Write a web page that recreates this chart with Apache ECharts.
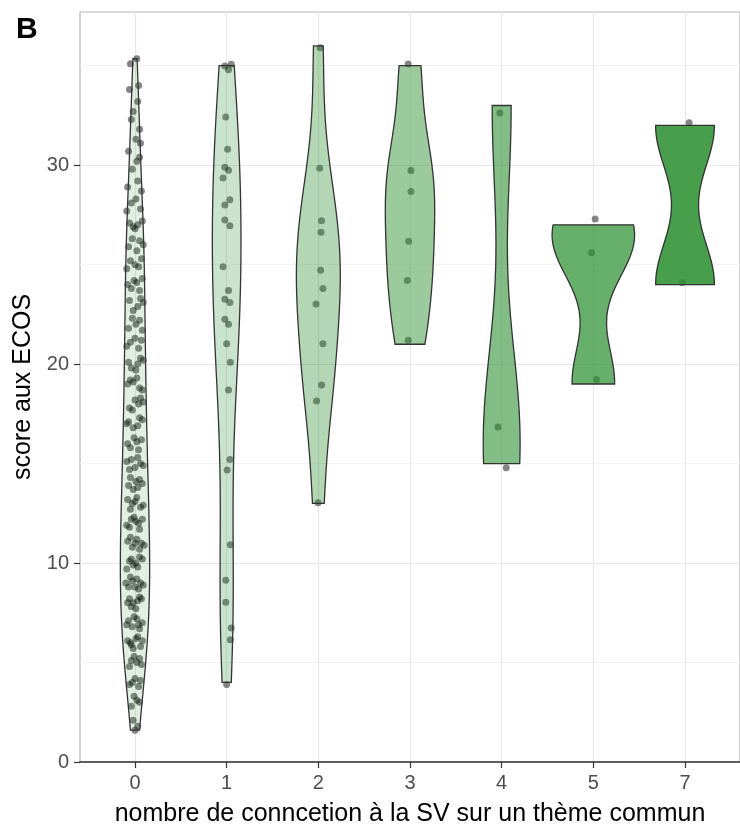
<!DOCTYPE html>
<html>
<head>
<meta charset="utf-8">
<script src="https://cdn.jsdelivr.net/npm/echarts@6/dist/echarts.min.js"></script>
<style>html,body{margin:0;padding:0;background:#fff}#c{width:740px;height:832px}</style>
</head>
<body>
<div id="c"></div>
<script>
// ---- data ----
const categories = ['0', '1', '2', '3', '4', '5', '7'];
const yLabelTicks = [0, 10, 20, 30];
const yGridTicks = [0, 5, 10, 15, 20, 25, 30, 35];
const xTicks = [0, 1, 2, 3, 4, 5, 6];
const fillAlpha = [0.14, 0.25, 0.36, 0.48, 0.6, 0.72, 0.88];

// jittered points as read: [x offset from category, score]
const pts0 = [
 [0.02,35.35],[-0.05,35.1],[-0.06,33.8],[0.04,34.0],[0.03,33.2],[-0.02,32.7],[0.05,31.8],[-0.04,32.3],
 [0.06,31.1],[-0.07,30.7],[0.01,31.3],[0.02,30.2],[-0.03,29.8],[0.05,30.4],[-0.08,28.9],[0.03,29.2],[0.07,28.7],
 [-0.04,28.1],[0.06,27.8],[0.01,28.3],[-0.09,27.7],[0.03,27.0],[-0.02,26.9],[0.08,27.2],[-0.06,27.1],[0.0,26.8],
 [0.05,26.2],[-0.07,25.9],[0.02,25.7],[-0.03,26.3],[0.09,26.0],[-0.05,25.2],[0.04,24.9],[0.0,25.0],[-0.09,24.8],[0.07,25.3],
 [0.02,24.1],[-0.04,23.8],[0.08,24.3],[-0.08,24.0],[0.05,23.7],[-0.01,24.2],
 [-0.06,23.2],[0.03,22.9],[0.09,23.1],[-0.02,22.7],[0.06,23.3],
 [0.01,22.0],[-0.07,21.8],[0.05,22.2],[-0.03,22.3],[0.08,21.7],
 [-0.05,21.1],[0.04,20.8],[0.0,21.3],[-0.09,20.9],[0.07,21.2],
 [0.03,20.0],[-0.04,19.8],[0.09,20.2],[-0.07,20.1],[0.01,19.7],[0.06,20.3],
 [-0.02,19.1],[0.05,18.8],[-0.08,19.0],[0.02,19.3],[0.08,18.7],[-0.05,19.2],
 [0.04,18.0],[-0.06,17.8],[0.0,18.2],[0.09,18.1],[-0.03,17.7],[0.06,18.3],
 [-0.07,17.1],[0.03,16.9],[0.08,17.2],[-0.02,16.8],[0.05,17.3],[-0.09,17.0],
 [0.02,16.1],[-0.05,15.8],[0.07,16.2],[-0.08,16.0],[0.04,15.7],[-0.01,16.3],
 [0.06,15.0],[-0.04,15.2],[0.0,14.8],[-0.09,15.1],[0.09,14.9],[0.03,15.3],[-0.06,14.7],
 [0.01,14.1],[-0.07,13.9],[0.05,14.2],[-0.02,13.7],[0.08,14.0],[-0.05,14.3],[0.03,13.8],
 [-0.03,13.0],[0.06,12.8],[-0.08,13.2],[0.02,13.3],[0.09,12.9],[-0.05,12.7],[0.0,13.1],
 [0.04,12.0],[-0.06,11.8],[0.08,12.2],[-0.01,12.3],[-0.09,11.9],[0.05,11.7],[0.01,12.1],[-0.04,12.2],
 [0.07,11.0],[-0.03,10.8],[0.02,11.2],[-0.08,11.1],[0.05,10.7],[-0.05,11.3],[0.1,10.9],[0.0,11.0],
 [-0.06,10.1],[0.03,9.8],[0.08,10.2],[-0.02,9.9],[0.05,10.3],[-0.09,9.7],[0.01,10.0],[-0.04,10.2],
 [0.06,9.0],[-0.07,8.8],[0.02,9.2],[-0.03,9.1],[0.09,8.9],[-0.05,9.3],[0.04,8.7],[-0.1,9.0],[0.0,8.8],
 [0.03,8.1],[-0.04,7.8],[0.07,8.2],[-0.08,8.0],[0.01,7.7],[0.05,8.3],[-0.02,8.0],[-0.06,8.2],
 [0.08,7.0],[-0.03,6.8],[0.02,7.2],[-0.07,7.1],[0.05,6.7],[-0.01,7.3],[0.04,6.9],[-0.09,6.9],
 [-0.05,6.0],[0.06,5.8],[0.01,6.2],[-0.08,6.1],[0.03,6.3],[-0.02,5.7],[0.08,6.1],[-0.04,5.9],
 [0.02,5.0],[-0.06,4.8],[0.05,5.2],[-0.01,5.3],[0.07,4.9],[-0.04,5.1],
 [-0.03,4.0],[0.04,3.8],[0.0,4.2],[-0.06,3.9],[0.06,4.1],
 [0.02,3.1],[-0.04,2.8],[0.05,3.0],[-0.01,3.3],
 [-0.02,2.1],[0.03,1.8],[0.0,1.6]
];
const pts1 = [
 [-0.02,34.98],[0.05,35.07],[0.02,34.8],[-0.01,32.42],[0.01,30.8],[-0.02,29.9],[0.02,29.75],[-0.04,29.35],
 [0.035,28.26],[-0.02,28.0],[-0.02,27.25],[0.035,26.95],[-0.04,24.9],[0.02,23.7],[-0.02,23.26],[0.035,23.1],
 [-0.02,22.26],[0.02,22.0],[0.0,21.03],[0.04,20.1],[0.02,18.7],[0.035,15.21],[0.005,14.68],[0.04,10.92],
 [-0.01,9.14],[-0.01,8.03],[0.05,6.73],[0.04,6.15],[0.0,3.9]
];
const pts2 = [
 [0.02,35.9],[0.015,29.84],[0.035,27.21],[0.03,26.63],[0.025,24.72],[0.05,23.8],[-0.025,23.02],[0.05,21.03],
 [0.035,18.95],[-0.02,18.15],[-0.003,13.03]
];
const pts3 = [[-0.02,35.08],[0.01,29.73],[0.01,28.68],[-0.015,26.18],[-0.03,24.2],[-0.02,21.2]];
const pts4 = [[-0.02,32.62],[-0.04,16.84],[0.05,14.79]];
const pts5 = [[0.02,27.3],[-0.02,25.6],[0.035,19.23]];
const pts7 = [[0.045,32.13],[-0.03,24.1]];

// underlying scores (for the violins)
const scores0 = pts0.map(p => p[1]);
const scores1 = [35,35,35,32,31,30,30,29,28,28,27,27,25,24,23,23,22,22,21,20,19,15,15,11,9,8,7,6,4];
const scores2 = [36,30,27,27,25,24,23,21,19,18,13];
const scores3 = [35,30,29,26,24,21];
const scores4 = [15,17,33];
const scores5 = [19,26,27];
const scores7 = [24,32];

const groupPoints = [pts0, pts1, pts2, pts3, pts4, pts5, pts7];
const groupScores = [scores0, scores1, scores2, scores3, scores4, scores5, scores7];

// ---- violin density (gaussian KDE, bw.nrd0, trimmed) ----
function quantile(s, p) {
  const h = (s.length - 1) * p, lo = Math.floor(h), hi = Math.ceil(h);
  return s[lo] + (h - lo) * (s[hi] - s[lo]);
}
function bwNrd0(x) {
  const n = x.length, s = x.slice().sort((a, b) => a - b);
  const mean = s.reduce((a, b) => a + b, 0) / n;
  const sd = Math.sqrt(s.reduce((a, b) => a + (b - mean) * (b - mean), 0) / (n - 1));
  let lo = Math.min(sd, (quantile(s, 0.75) - quantile(s, 0.25)) / 1.34);
  if (!(lo > 0)) lo = sd || Math.abs(s[0]) || 1;
  return 0.9 * lo * Math.pow(n, -0.2);
}
function kde(x) {
  const bw = bwNrd0(x), n = x.length;
  const from = Math.min(...x), to = Math.max(...x), N = 512, out = [];
  for (let k = 0; k < N; k++) {
    const y = from + (to - from) * k / (N - 1);
    let d = 0;
    for (const xi of x) { const z = (y - xi) / bw; d += Math.exp(-0.5 * z * z); }
    out.push([y, d / (n * bw * Math.sqrt(2 * Math.PI))]);
  }
  return out;
}
const profiles = groupScores.map(kde);
const maxDens = Math.max(...profiles.map(p => Math.max(...p.map(q => q[1]))));

const pointData = [];
groupPoints.forEach((pts, i) => pts.forEach(p => pointData.push([i + p[0], p[1]])));

const FONT = 'Liberation Sans, Arial, Helvetica, sans-serif';
const chart = echarts.init(document.getElementById('c'), null, {renderer: 'canvas'});
chart.setOption({
  animation: false,
  title: {text: 'B', left: 11, top: 10, textStyle: {fontSize: 30, fontWeight: 'bold', color: '#000', fontFamily: FONT}},
  grid: {left: 80, right: -7.3, top: 12, bottom: 63.7, show: true, borderColor: '#b3b3b3', borderWidth: 1.2, backgroundColor: 'transparent'},
  xAxis: {
    type: 'value', min: -0.6, max: 6.6,
    name: 'nombre de conncetion à la SV sur un thème commun',
    nameLocation: 'middle', nameGap: 40,
    nameTextStyle: {fontSize: 25, color: '#000', fontFamily: FONT},
    axisLine: {show: true, onZero: false, lineStyle: {color: '#333', width: 1.6}},
    axisTick: {show: true, customValues: xTicks, length: 6, lineStyle: {color: '#333', width: 1.2}},
    axisLabel: {customValues: xTicks, formatter: v => categories[Math.round(v)], color: '#4d4d4d', fontSize: 20, margin: 11, fontFamily: FONT},
    splitLine: {show: true, lineStyle: {color: '#e8e8e8', width: 1.2}}
  },
  yAxis: [{
    type: 'value', min: 0, max: 37.7, position: 'left',
    axisLine: {show: false}, axisTick: {show: false, customValues: yGridTicks}, axisLabel: {show: false},
    splitLine: {show: true, lineStyle: {color: ['#e8e8e8', '#f3f3f3'], width: 1.2}}
  }, {
    type: 'value', min: 0, max: 37.7, position: 'left',
    name: 'score aux ECOS', nameLocation: 'middle', nameGap: 37,
    nameTextStyle: {fontSize: 25, color: '#000', fontFamily: FONT},
    axisLine: {show: false},
    axisTick: {show: true, customValues: yLabelTicks, length: 6, lineStyle: {color: '#333', width: 1.2}},
    axisLabel: {customValues: yLabelTicks, color: '#4d4d4d', fontSize: 20, margin: 11, fontFamily: FONT},
    splitLine: {show: false}
  }],
  series: [{
    type: 'scatter', z: 2, silent: true,
    data: pointData, symbolSize: 7,
    itemStyle: {color: 'rgba(0,0,0,0.6)'}
  }, {
    type: 'custom', z: 3, silent: true,
    data: categories.map((c, i) => [i]),
    renderItem: function (params, api) {
      const i = api.value(0), prof = profiles[i], pts = [];
      for (const [y, d] of prof) pts.push(api.coord([i + 0.45 * d / maxDens, y]));
      for (let k = prof.length - 1; k >= 0; k--) pts.push(api.coord([i - 0.45 * prof[k][1] / maxDens, prof[k][0]]));
      return {type: 'polygon', shape: {points: pts},
        style: {fill: 'rgba(45,145,50,' + fillAlpha[i] + ')', stroke: '#333', lineWidth: 1.3}};
    }
  }]
});
</script>
</body>
</html>
